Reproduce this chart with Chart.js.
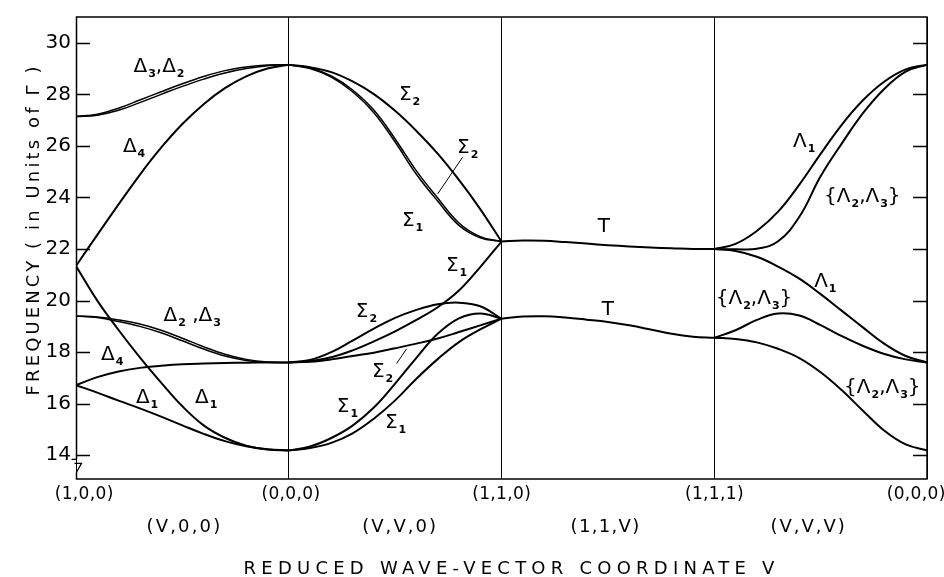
<!DOCTYPE html>
<html><head><meta charset="utf-8">
<script src="https://cdn.jsdelivr.net/npm/chart.js@4.4.1/dist/chart.umd.min.js"></script>
<style>html,body{margin:0;padding:0;background:#fff}#wrap{width:944px;height:577px}</style>
</head><body><div id="wrap"><canvas id="c" width="944" height="577"></canvas></div>
<script>
// ---- tick labels / categories ----
const pointLabels = ['(1,0,0)', '(0,0,0)', '(1,1,0)', '(1,1,1)', '(0,0,0)'];
const sectionLabels = ['(V,0,0)', '(V,V,0)', '(1,1,V)', '(V,V,V)'];
const freqTicks = [14, 16, 18, 20, 22, 24, 26, 28, 30];
const V = [0, 0.1, 0.2, 0.3, 0.4, 0.5, 0.6, 0.7, 0.8, 0.9, 1];

// ---- segment 1: (1,0,0) -> (0,0,0), values left to right ----
const delta3 = [27.14, 27.19, 27.38, 27.68, 28.0, 28.31, 28.59, 28.83, 29.0, 29.11, 29.15];
const delta2 = [27.14, 27.23, 27.46, 27.78, 28.1, 28.41, 28.69, 28.92, 29.06, 29.14, 29.15];
const delta4Up = [21.34, 22.55, 23.73, 24.88, 25.93, 26.85, 27.62, 28.24, 28.7, 29.0, 29.15];
const delta2Low = [19.4, 19.34, 19.19, 19.0, 18.75, 18.44, 18.12, 17.85, 17.68, 17.61, 17.6];
const delta3Low = [19.4, 19.36, 19.25, 19.09, 18.85, 18.54, 18.21, 17.92, 17.72, 17.62, 17.6];
const delta4Low = [16.72, 17.03, 17.25, 17.39, 17.47, 17.53, 17.56, 17.58, 17.59, 17.6, 17.6];
const delta1A = [21.34, 20.0, 18.86, 17.8, 16.82, 15.9, 15.16, 14.68, 14.37, 14.22, 14.19];
const delta1B = [16.72, 16.43, 16.12, 15.82, 15.5, 15.16, 14.83, 14.55, 14.35, 14.23, 14.19];

// ---- segment 2: (0,0,0) -> (1,1,0) ----
const sigma2Top = [29.15, 29.05, 28.86, 28.5, 28.01, 27.36, 26.58, 25.7, 24.68, 23.55, 22.29];
const sigma1Top = [29.15, 29.0, 28.67, 28.1, 27.29, 26.15, 24.9, 23.86, 22.92, 22.44, 22.29];
const sigma2Mid = [29.15, 29.02, 28.71, 28.17, 27.39, 26.27, 25.03, 23.98, 23.01, 22.48, 22.29];
const sigma1Rise = [17.6, 17.65, 17.8, 18.07, 18.42, 18.81, 19.25, 19.74, 20.39, 21.3, 22.29];
const sigma2Hump = [17.6, 17.7, 18.0, 18.45, 18.91, 19.33, 19.64, 19.86, 19.92, 19.78, 19.3];
const sigma2Low = [17.6, 17.63, 17.72, 17.85, 17.98, 18.15, 18.33, 18.53, 18.78, 19.04, 19.3];
const sigma1Mid = [14.19, 14.34, 14.67, 15.15, 15.85, 16.78, 17.78, 18.71, 19.31, 19.5, 19.3];
const sigma1Low = [14.19, 14.28, 14.48, 14.85, 15.42, 16.13, 16.97, 17.73, 18.39, 18.88, 19.3];

// ---- segment 3: (1,1,0) -> (1,1,1) ----
const tUp = [22.29, 22.33, 22.32, 22.27, 22.21, 22.15, 22.1, 22.06, 22.03, 22.0, 22.0];
const tLow = [19.3, 19.38, 19.39, 19.34, 19.26, 19.17, 19.04, 18.88, 18.71, 18.6, 18.56];

// ---- segment 4: (1,1,1) -> (0,0,0) ----
const lambda1Up = [22.0, 22.2, 22.7, 23.45, 24.5, 25.69, 26.83, 27.78, 28.5, 28.97, 29.15];
const lambda23Up = [22.0, 21.99, 22.01, 22.3, 23.25, 24.82, 26.1, 27.28, 28.22, 28.88, 29.15];
const lambda1Low = [22.0, 21.92, 21.7, 21.32, 20.85, 20.25, 19.6, 18.95, 18.32, 17.85, 17.6];
const lambda23Mid = [18.56, 18.85, 19.25, 19.5, 19.42, 19.05, 18.62, 18.24, 17.93, 17.72, 17.6];
const lambda23Low = [18.56, 18.51, 18.38, 18.13, 17.77, 17.22, 16.52, 15.72, 14.95, 14.42, 14.19];

const segments = [
  [delta3, delta2, delta4Up, delta2Low, delta3Low, delta4Low, delta1A, delta1B],
  [sigma2Top, sigma1Top, sigma2Mid, sigma1Rise, sigma2Hump, sigma2Low, sigma1Mid, sigma1Low],
  [tUp, tLow],
  [lambda1Up, lambda23Up, lambda1Low, lambda23Mid, lambda23Low]
];
const pairedBranches = [delta3, delta2, delta2Low, delta3Low, sigma1Top, sigma2Mid];

// ---- branch annotations (text, path coordinate, frequency) ----
const branchLabels = [
  {t: 'Δ_3,Δ_2', x: 0.39, y: 29.08},
  {t: 'Δ_4', x: 0.273, y: 25.94},
  {t: 'Δ_2 ,Δ_3', x: 0.546, y: 19.4},
  {t: 'Δ_4', x: 0.17, y: 17.9},
  {t: 'Δ_1', x: 0.334, y: 16.22},
  {t: 'Δ_1', x: 0.612, y: 16.22},
  {t: 'Σ_2', x: 1.568, y: 27.97},
  {t: 'Σ_2', x: 1.841, y: 25.9},
  {t: 'Σ_1', x: 1.582, y: 23.07},
  {t: 'Σ_1', x: 1.789, y: 21.35},
  {t: 'Σ_2', x: 1.365, y: 19.55},
  {t: 'Σ_2', x: 1.441, y: 17.22},
  {t: 'Σ_1', x: 1.276, y: 15.88},
  {t: 'Σ_1', x: 1.502, y: 15.26},
  {t: 'T', x: 2.481, y: 22.84},
  {t: 'T', x: 2.5, y: 19.63},
  {t: 'Λ_1', x: 3.423, y: 26.17},
  {t: '{Λ_2,Λ_3}', x: 3.696, y: 24.03},
  {t: 'Λ_1', x: 3.522, y: 20.74},
  {t: '{Λ_2,Λ_3}', x: 3.187, y: 20.05},
  {t: '{Λ_2,Λ_3}', x: 3.79, y: 16.6}
];
const pointerLines = [[1.817, 25.56, 1.700, 24.14], [1.507, 17.56, 1.554, 18.13]];

const datasets = [];
segments.forEach((branches, s) => branches.forEach(arr => datasets.push({
  data: arr.map((y, i) => ({x: s + V[i], y: y})),
  borderColor: '#000', borderWidth: pairedBranches.includes(arr) ? 1.5 : 2, pointRadius: 0,
  tension: 0.4, fill: false
})));

function spacedText(ctx, text, x, y, targetWidth) {
  ctx.letterSpacing = '0px';
  const n = [...text].length;
  const w0 = ctx.measureText(text).width;
  const sp = targetWidth ? Math.max(0, (targetWidth - w0) / n) : 0;
  ctx.letterSpacing = sp + 'px';
  const w = w0 + sp * n;
  ctx.textAlign = 'left';
  ctx.fillText(text, x - w / 2 + sp / 2, y);
  ctx.letterSpacing = '0px';
}

function richText(ctx, text, cx, cy) {
  const parts = [];
  const chars = [...text];
  for (let i = 0; i < chars.length; i++) {
    if (chars[i] === '_') { parts.push({s: chars[i + 1], sub: true}); i++; }
    else parts.push({s: chars[i], sub: false});
  }
  const mainF = '20px "DejaVu Sans"', subF = 'bold 11px "DejaVu Sans"';
  let w = 0;
  parts.forEach(p => { ctx.font = p.sub ? subF : mainF; p.w = ctx.measureText(p.s).width + (p.sub ? 1 : 0); w += p.w; });
  let x = cx - w / 2;
  const base = cy + 5;
  ctx.textAlign = 'left';
  ctx.textBaseline = 'alphabetic';
  parts.forEach(p => {
    ctx.font = p.sub ? subF : mainF;
    ctx.fillText(p.s, x + (p.sub ? 1 : 0), p.sub ? base + 5 : base);
    x += p.w;
  });
}

const decor = {
  id: 'decor',
  afterDraw(chart) {
    const ctx = chart.ctx, a = chart.chartArea;
    const xs = chart.scales.x, ys = chart.scales.y;
    ctx.save();
    ctx.strokeStyle = '#000';
    ctx.fillStyle = '#000';
    // frame with axis break
    ctx.lineWidth = 1.5;
    const L = a.left + 0.5, y14 = ys.getPixelForValue(14);
    ctx.beginPath();
    ctx.moveTo(L, y14 + 4);
    ctx.lineTo(L, a.top);
    ctx.lineTo(a.right, a.top);
    ctx.lineTo(a.right, a.bottom);
    ctx.lineTo(L, a.bottom);
    ctx.lineTo(L, y14 + 17);
    ctx.stroke();
    ctx.lineWidth = 1.3;
    ctx.beginPath();
    ctx.moveTo(L, y14 + 4);
    ctx.lineTo(L - 5, y14 + 4);
    ctx.moveTo(L - 2, y14 + 8);
    ctx.lineTo(L + 5, y14 + 8);
    ctx.lineTo(L, y14 + 17);
    ctx.stroke();
    // inward ticks on both sides
    ctx.lineWidth = 1.3;
    freqTicks.forEach(v => {
      const py = Math.round(ys.getPixelForValue(v)) + 0.5;
      ctx.beginPath();
      ctx.moveTo(a.left, py); ctx.lineTo(a.left + 14, py);
      ctx.moveTo(a.right - 14, py); ctx.lineTo(a.right, py);
      ctx.stroke();
    });
    // branch labels
    branchLabels.forEach(b => richText(ctx, b.t, xs.getPixelForValue(b.x), ys.getPixelForValue(b.y)));
    ctx.lineWidth = 1;
    pointerLines.forEach(p => {
      ctx.beginPath();
      ctx.moveTo(xs.getPixelForValue(p[0]), ys.getPixelForValue(p[1]));
      ctx.lineTo(xs.getPixelForValue(p[2]), ys.getPixelForValue(p[3]));
      ctx.stroke();
    });
    // x tick labels
    ctx.textBaseline = 'middle';
    ctx.font = '17px "DejaVu Sans"';
    const shift = [8, 2, 0, 0, -11];
    pointLabels.forEach((t, i) => spacedText(ctx, t, xs.getPixelForValue(i) + shift[i], a.bottom + 16, 59));
    ctx.font = '18px "DejaVu Sans"';
    const sshift = [1, 4, -3, -13];
    sectionLabels.forEach((t, i) => spacedText(ctx, t, xs.getPixelForValue(i + 0.5) + sshift[i], a.bottom + 48, i === 2 ? 70 : 76));
    ctx.font = '18px "DejaVu Sans"';
    spacedText(ctx, 'REDUCED WAVE-VECTOR COORDINATE V', 509, a.bottom + 90, 536);
    // y title
    ctx.save();
    ctx.translate(34, 231);
    ctx.rotate(-Math.PI / 2);
    ctx.font = '18px "DejaVu Sans"';
    spacedText(ctx, 'FREQUENCY ( in Units of Γ )', 0, 0, 332);
    ctx.restore();
    ctx.restore();
  }
};

new Chart(document.getElementById('c'), {
  type: 'line',
  data: {datasets: datasets},
  options: {
    responsive: false, animation: false, devicePixelRatio: 1,
    layout: {padding: {top: 12, right: 17, left: 0, bottom: 0}},
    plugins: {legend: {display: false}, tooltip: {enabled: false}},
    scales: {
      x: {
        type: 'linear', min: 0, max: 4,
        afterBuildTicks: s => { s.ticks = pointLabels.map((_, i) => ({value: i})); },
        afterFit: s => { s.height = 98; },
        ticks: {display: false},
        grid: {color: '#000', lineWidth: 1, drawTicks: false},
        border: {display: false}
      },
      y: {
        type: 'linear', min: 13.08, max: 31,
        afterBuildTicks: s => { s.ticks = freqTicks.map(v => ({value: v})); },
        afterFit: s => { s.width = 76; },
        ticks: {color: '#000', font: {family: 'DejaVu Sans', size: 20}, padding: 5},
        grid: {drawOnChartArea: false, drawTicks: false},
        border: {display: false}
      }
    }
  },
  plugins: [decor]
});
</script></body></html>
